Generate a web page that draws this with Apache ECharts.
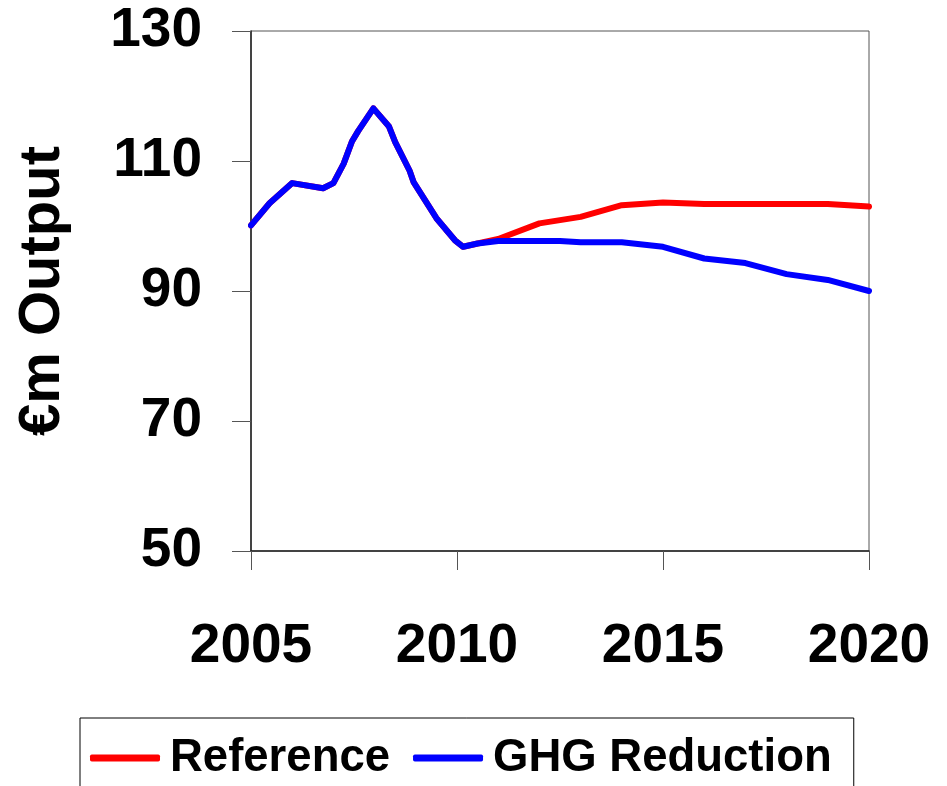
<!DOCTYPE html>
<html>
<head>
<meta charset="utf-8">
<script src="https://cdn.jsdelivr.net/npm/echarts@6/dist/echarts.min.js"></script>
<style>
html,body{margin:0;padding:0;background:#fff;}
#chart{width:947px;height:786px;}
</style>
</head>
<body>
<div id="chart"></div>
<script>
// Years (decimal) and values
var blueYears = [2005.0, 2005.45, 2006.0, 2006.75, 2007.0, 2007.25, 2007.45, 2007.6, 2007.97, 2008.35, 2008.5, 2008.85, 2008.95, 2009.5, 2009.95, 2010.15, 2010.5, 2011, 2012, 2012.5, 2013, 2014, 2015, 2016, 2017, 2018, 2019, 2020];
var blueValues = [100.1, 103.5, 106.6, 105.8, 106.6, 109.6, 113.0, 114.6, 118.1, 115.3, 112.9, 108.5, 106.7, 101.2, 97.8, 96.8, 97.3, 97.7, 97.7, 97.7, 97.5, 97.5, 96.8, 95.0, 94.3, 92.6, 91.7, 90.0];
var redYears = [2005.0, 2005.45, 2006.0, 2006.75, 2007.0, 2007.25, 2007.45, 2007.6, 2007.97, 2008.35, 2008.5, 2008.85, 2008.95, 2009.5, 2009.95, 2010.15, 2010.5, 2011, 2012, 2013, 2014, 2015, 2016, 2017, 2018, 2019, 2020];
var redValues = [100.1, 103.5, 106.6, 105.8, 106.6, 109.6, 113.0, 114.6, 118.1, 115.3, 112.9, 108.5, 106.7, 101.2, 97.8, 96.8, 97.3, 98.0, 100.4, 101.4, 103.2, 103.6, 103.4, 103.4, 103.4, 103.4, 103.0];
var seriesNames = ['Reference', 'GHG Reduction'];
var yTicks = [50, 70, 90, 110, 130];
var xTicks = [2005, 2010, 2015, 2020];

function pairs(xs, ys) { return xs.map(function (x, i) { return [x, ys[i]]; }); }

var FONT = '"Liberation Sans", Arial, sans-serif';
var chart = echarts.init(document.getElementById('chart'), null, {renderer: 'canvas'});
chart.setOption({
  backgroundColor: '#ffffff',
  animation: false,
  grid: {
    left: 251, right: 78, top: 31, bottom: 235,
    show: true, borderColor: '#555', borderWidth: 1,
    containLabel: false, outerBoundsMode: 'none'
  },
  legend: {
    left: 80, top: 718,
    padding: [17, 22, 60, 10],
    borderColor: '#000', borderWidth: 1,
    itemGap: 23,
    itemWidth: 70, itemHeight: 7,
    icon: 'roundRect',
    data: seriesNames,
    textStyle: {fontFamily: FONT, fontWeight: 'bold', fontSize: 45.5, color: '#000', padding: [0, 0, 0, 5]}
  },
  xAxis: {
    type: 'value', min: xTicks[0], max: xTicks[xTicks.length - 1], interval: 5,
    axisLine: {show: true, lineStyle: {color: '#222', width: 1.5}},
    axisTick: {show: true, length: 19, lineStyle: {color: '#555', width: 1}},
    splitLine: {show: false},
    axisLabel: {margin: 68, fontFamily: FONT, fontWeight: 'bold', fontSize: 55, color: '#000',
      formatter: function (v) { return String(v); }}
  },
  yAxis: {
    type: 'value', min: yTicks[0], max: yTicks[yTicks.length - 1], interval: 20,
    name: '€m Output', nameLocation: 'middle', nameRotate: 90, nameGap: 179,
    nameTextStyle: {fontFamily: FONT, fontWeight: 'bold', fontSize: 58, color: '#000'},
    axisLine: {show: true, lineStyle: {color: '#222', width: 1.5}},
    axisTick: {show: true, length: 19, lineStyle: {color: '#555', width: 1}},
    splitLine: {show: false},
    axisLabel: {margin: 49, fontFamily: FONT, fontWeight: 'bold', fontSize: 55, color: '#000',
      padding: [4, 0, 0, 0]}
  },
  series: [
    {
      name: seriesNames[0], type: 'line', data: pairs(redYears, redValues),
      showSymbol: false, symbol: 'none', color: '#ff0000',
      lineStyle: {color: '#ff0000', width: 6, cap: 'round', join: 'round'}
    },
    {
      name: seriesNames[1], type: 'line', data: pairs(blueYears, blueValues),
      showSymbol: false, symbol: 'none', color: '#0000ff',
      lineStyle: {color: '#0000ff', width: 6, cap: 'round', join: 'round'}
    }
  ]
});
</script>
</body>
</html>
